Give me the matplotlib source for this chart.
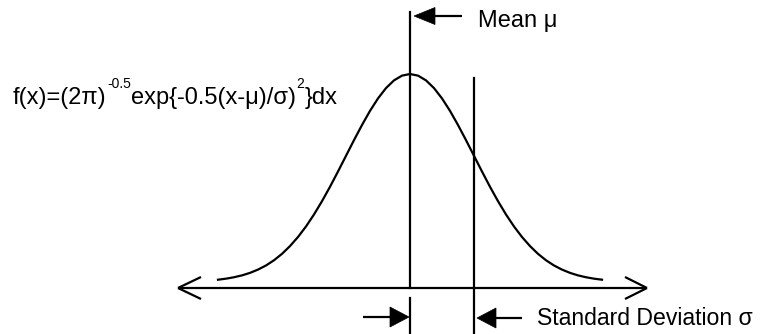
import matplotlib
matplotlib.use("Agg")
import matplotlib.pyplot as plt
from matplotlib.patches import Polygon

# ---- data (curve, in units of sigma / density) ----
curve_x = [-3.0, -2.875, -2.75, -2.625, -2.5, -2.375, -2.25, -2.125, -2.0, -1.875, -1.75, -1.625,
           -1.5, -1.375, -1.25, -1.125, -1.0, -0.875, -0.75, -0.625, -0.5, -0.375, -0.25, -0.125,
           0.0, 0.125, 0.25, 0.375, 0.5, 0.625, 0.75, 0.875, 1.0, 1.125, 1.25, 1.375,
           1.5, 1.625, 1.75, 1.875, 2.0, 2.125, 2.25, 2.375, 2.5, 2.625, 2.75, 2.875, 3.0]
curve_y = [0.0044, 0.0064, 0.0091, 0.0127, 0.0175, 0.0238, 0.0317, 0.0417, 0.0540, 0.0689, 0.0863, 0.1065,
           0.1295, 0.1550, 0.1826, 0.2119, 0.2420, 0.2721, 0.3011, 0.3282, 0.3521, 0.3719, 0.3867, 0.3958,
           0.3989, 0.3958, 0.3867, 0.3719, 0.3521, 0.3282, 0.3011, 0.2721, 0.2420, 0.2119, 0.1826, 0.1550,
           0.1295, 0.1065, 0.0863, 0.0689, 0.0540, 0.0417, 0.0317, 0.0238, 0.0175, 0.0127, 0.0091, 0.0064, 0.0044]
mean_value = 0.0
sd_value = 1.0

formula_main1 = "f(x)=(2π)"
formula_sup1 = "-0.5"
formula_main2 = "exp{-0.5(x-μ)/σ)"
formula_sup2 = "2"
formula_main3 = "}dx"
label_mean = "Mean μ"
label_sd = "Standard Deviation σ"

# ---- layout (pixel geometry of the figure) ----
W, H, DPI = 761, 334, 100
MEAN_PX, SIGMA_PX, BASE_PX, PX_PER_UNIT = 410.0, 64.0, 282.0, 521.4
FONT = "Liberation Sans"
FS = 17
SUP_FS = 10
LW = 1.6


def d(xp, yp):
    """pixel position -> data coordinates"""
    return ((xp - MEAN_PX) / SIGMA_PX, (BASE_PX - yp) / PX_PER_UNIT)


fig = plt.figure(figsize=(W / DPI, H / DPI), dpi=DPI)
ax = fig.add_axes([0, 0, 1, 1])
ax.set_xlim(d(0, 0)[0], d(W, 0)[0])
ax.set_ylim(d(0, H)[1], d(0, 0)[1])
ax.axis("off")


def seg(p1, p2):
    a, b = d(*p1), d(*p2)
    ax.plot([a[0], b[0]], [a[1], b[1]], color="black", lw=LW, solid_capstyle="butt")


def tri(tip, base_x, half):
    pts = [d(*tip), d(base_x, tip[1] - half), d(base_x, tip[1] + half)]
    ax.add_patch(Polygon(pts, closed=True, facecolor="black", edgecolor="black", lw=0.5))


# normal curve
ax.plot(curve_x, curve_y, color="black", lw=LW, solid_joinstyle="round")

# horizontal axis with open arrowheads
AX_Y = 288
seg((178, AX_Y), (647, AX_Y))
seg((201, AX_Y - 11), (178, AX_Y))
seg((178, AX_Y), (201, AX_Y + 11))
seg((625, AX_Y - 11), (647, AX_Y))
seg((647, AX_Y), (625, AX_Y + 11))

# mean line
mx = MEAN_PX + mean_value * SIGMA_PX
ax.plot([mean_value, mean_value], [d(0, 12)[1], d(0, AX_Y)[1]], color="black", lw=LW)
ax.plot([mean_value, mean_value], [d(0, 298)[1], d(0, H)[1]], color="black", lw=LW)

# sigma line
sx = MEAN_PX + sd_value * SIGMA_PX
ax.plot([sd_value, sd_value], [d(0, 78)[1], d(0, 333)[1]], color="black", lw=LW)

# top arrow to mean
seg((434, 16), (462, 16))
tri((mx + 4, 16), 435, 8.5)
ax.text(*d(478, 26.5), label_mean, fontsize=FS, family=FONT, va="baseline", ha="left")

# bottom dimension arrows
seg((363, 317), (391, 317))
tri((mx - 1, 317), 390, 10)
seg((496, 318), (522, 318))
tri((sx + 3, 318), 496, 10)
ax.text(*d(537, 325), label_sd, fontsize=16.6, family=FONT, va="baseline", ha="left")

# formula
bx, by = d(13, 104)
sup_dy = 11.5  # points
t1 = ax.text(bx, by, formula_main1, fontsize=FS, family=FONT, va="baseline", ha="left")
s1 = ax.annotate(formula_sup1, xy=(1, by), xycoords=(t1, "data"), xytext=(0.2, sup_dy),
                 textcoords="offset points", fontsize=SUP_FS, family=FONT, va="baseline", ha="left")
t2 = ax.annotate(formula_main2, xy=(1, by), xycoords=(s1, "data"), xytext=(0.2, 0),
                 textcoords="offset points", fontsize=FS, family=FONT, va="baseline", ha="left")
s2 = ax.annotate(formula_sup2, xy=(1, by), xycoords=(t2, "data"), xytext=(0.3, sup_dy),
                 textcoords="offset points", fontsize=SUP_FS, family=FONT, va="baseline", ha="left")
ax.annotate(formula_main3, xy=(1, by), xycoords=(s2, "data"), xytext=(0.3, 0),
            textcoords="offset points", fontsize=FS, family=FONT, va="baseline", ha="left")

fig.savefig("out.png", dpi=DPI, facecolor="white")
